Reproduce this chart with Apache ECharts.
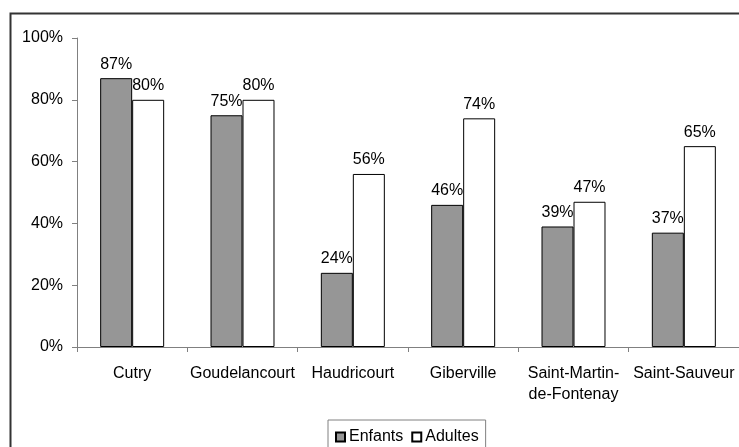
<!DOCTYPE html>
<html>
<head>
<meta charset="utf-8">
<script src="https://cdn.jsdelivr.net/npm/echarts@6/dist/echarts.min.js"></script>
<style>
html,body{margin:0;padding:0;background:#fff;}
#c{width:739px;height:447px;}
</style>
</head>
<body>
<div id="c"></div>
<script>
const categories = ['Cutry', 'Goudelancourt', 'Haudricourt', 'Giberville', 'Saint-Martin-\nde-Fontenay', 'Saint-Sauveur'];
const enfants = [87, 75, 24, 46, 39, 37];
const adultes = [80, 80, 56, 74, 47, 65];
const yTicks = [0, 20, 40, 60, 80, 100];

const font = '"Liberation Sans", Arial, sans-serif';
const FS = 16;
const chart = echarts.init(document.getElementById('c'), null, {renderer: 'canvas'});
chart.setOption({
  animation: false,
  backgroundColor: '#fff',
  textStyle: {fontFamily: font},
  graphic: [{
    type: 'rect', left: 8, top: 11, z: -1,
    shape: {x: 0, y: 0, width: 760, height: 460},
    style: {fill: 'none', stroke: '#333', lineWidth: 2}
  }],
  grid: {left: 77, top: 38, right: 0, bottom: 100, containLabel: false},
  legend: {
    data: ['Enfants', 'Adultes'],
    left: 328, top: 420,
    padding: [9, 7, 9, 7],
    itemGap: 8,
    itemWidth: 9, itemHeight: 9,
    icon: 'rect',
    borderColor: '#808080', borderWidth: 1,
    textStyle: {fontSize: FS, color: '#000', fontFamily: font, padding: [0, 0, 0, -1]}
  },
  xAxis: {
    type: 'category',
    data: categories,
    axisLine: {lineStyle: {color: '#808080', width: 1}},
    axisTick: {show: true, length: 5, lineStyle: {color: '#808080'}},
    axisLabel: {fontSize: FS, color: '#000', fontFamily: font, margin: 16, lineHeight: 21, interval: 0}
  },
  yAxis: {
    type: 'value', min: 0, max: 100, interval: 20,
    axisLine: {show: true, lineStyle: {color: '#808080', width: 1}},
    axisTick: {show: true, length: 5, lineStyle: {color: '#808080'}},
    splitLine: {show: false},
    axisLabel: {fontSize: FS, color: '#000', fontFamily: font, margin: 14, formatter: v => yTicks.includes(v) ? v + '%' : ''}
  },
  series: [
    {
      name: 'Enfants', type: 'bar', data: enfants,
      barGap: '0%', barCategoryGap: '42%',
      itemStyle: {color: '#969696', borderColor: '#000', borderWidth: 1},
      label: {show: true, position: 'top', distance: 6, fontSize: FS, color: '#000', fontFamily: font, formatter: '{c}%'}
    },
    {
      name: 'Adultes', type: 'bar', data: adultes,
      barGap: '0%', barCategoryGap: '42%',
      itemStyle: {color: '#fff', borderColor: '#000', borderWidth: 1},
      label: {show: true, position: 'top', distance: 6, fontSize: FS, color: '#000', fontFamily: font, formatter: '{c}%'}
    }
  ]
});
</script>
</body>
</html>
